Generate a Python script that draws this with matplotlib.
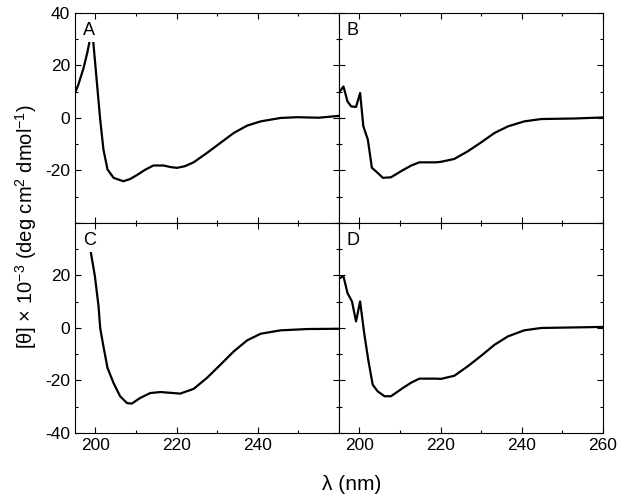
import matplotlib
matplotlib.use("Agg")
import matplotlib.pyplot as plt

plt.rcParams["font.family"] = ["Liberation Sans", "DejaVu Sans"]
plt.rcParams["mathtext.fontset"] = "custom"
plt.rcParams["mathtext.rm"] = "Liberation Sans"
plt.rcParams["mathtext.it"] = "Liberation Sans:italic"
plt.rcParams["axes.unicode_minus"] = False

# panel A
wl_a = [195.0, 195.8, 197.1, 198.0, 198.5, 199.0, 199.5, 200.4, 201.2, 202.0, 203.0,
        204.5, 206.9, 208.5, 210.2, 212.3, 214.3, 216.8, 218.5, 220.1, 222.0, 224.2,
        227.5, 230.8, 234.1, 237.4, 240.7, 245.6, 249.7, 255.0, 260.0]
th_a = [9.5, 12.6, 19.0, 24.7, 28.5, 34.0, 29.0, 13.3, -0.6, -12.0, -19.6,
        -22.8, -24.1, -23.3, -21.8, -19.7, -18.1, -18.1, -18.7, -19.0, -18.4, -16.9,
        -13.3, -9.5, -5.7, -2.9, -1.3, 0.0, 0.3, 0.1, 0.8]

# panel B
wl_b = [195.0, 195.5, 196.1, 197.1, 198.0, 199.2, 200.2, 201.0, 202.1, 203.1, 204.1,
        205.8, 207.8, 210.7, 212.8, 214.8, 218.9, 220.1, 223.4, 226.7, 230.0, 233.3,
        236.6, 240.6, 244.8, 252.9, 260.0]
th_b = [10.0, 10.7, 12.0, 6.3, 4.4, 4.2, 9.5, -3.2, -8.2, -19.0, -20.3,
        -22.8, -22.6, -19.9, -18.1, -16.9, -16.9, -16.7, -15.6, -12.7, -9.3, -5.7,
        -3.2, -1.3, -0.4, -0.2, 0.2]

# panel C
wl_c = [198.9, 199.9, 200.8, 201.2, 202.0, 203.0, 204.5, 206.1, 207.8, 209.0, 211.0,
        213.5, 216.0, 218.5, 220.9, 224.2, 227.5, 230.8, 234.1, 237.4, 240.7, 245.6,
        252.2, 260.0]
th_c = [28.8, 19.7, 8.2, 0.0, -7.0, -15.2, -21.0, -26.0, -28.6, -28.8, -26.7,
        -24.8, -24.4, -24.7, -25.0, -23.2, -19.0, -14.0, -8.9, -4.7, -2.2, -0.9,
        -0.4, -0.3]

# panel D
wl_d = [195.2, 196.1, 197.1, 198.2, 199.2, 200.2, 201.2, 202.2, 203.3, 204.5, 206.2,
        207.8, 210.7, 212.8, 214.8, 218.9, 220.1, 223.4, 226.7, 230.0, 233.3, 236.6,
        240.6, 244.8, 260.0]
th_d = [19.0, 19.7, 13.3, 10.1, 2.5, 10.1, -1.9, -12.1, -21.6, -24.1, -26.0,
        -26.0, -22.9, -20.8, -19.3, -19.3, -19.4, -18.2, -14.6, -10.6, -6.4, -3.2,
        -0.9, 0.0, 0.4]

panels = [("A", wl_a, th_a), ("B", wl_b, th_b), ("C", wl_c, th_c), ("D", wl_d, th_d)]

fig = plt.figure(figsize=(6.24, 5.03), dpi=100)
gs = fig.add_gridspec(2, 2, left=0.1202, right=0.9663, top=0.9742, bottom=0.1392,
                      hspace=0, wspace=0)

for i, (name, wl, th) in enumerate(panels):
    row, col = divmod(i, 2)
    ax = fig.add_subplot(gs[row, col])
    ax.plot(wl, th, color="black", lw=1.6)
    ax.set_xlim(195, 260)
    ax.set_ylim(-40, 40)
    ax.set_xticks([200, 220, 240, 260])
    ax.set_xticks([210, 230, 250], minor=True)
    ax.set_yticks([-40, -20, 0, 20, 40])
    ax.set_yticks([-30, -10, 10, 30], minor=True)
    ax.tick_params(which="both", direction="in", top=True, right=True,
                   labelsize=12.5, width=0.8)
    ax.tick_params(which="major", length=4.5)
    ax.tick_params(which="minor", length=2.5)
    for s in ax.spines.values():
        s.set_linewidth(0.8)
    if col == 0:
        if row == 0:
            ax.set_yticklabels(["", "-20", "0", "20", "40"])
        else:
            ax.set_yticklabels(["-40", "-20", "0", "20", ""])
    else:
        ax.tick_params(labelleft=False)
    if row == 1:
        if col == 0:
            ax.set_xticklabels(["200", "220", "240", ""])
        else:
            ax.set_xticklabels(["200", "220", "240", "260"])
    else:
        ax.tick_params(labelbottom=False)
    ax.text(0.03, 0.955, name, transform=ax.transAxes, ha="left", va="top",
            fontsize=13, zorder=5,
            bbox=dict(facecolor="white", edgecolor="none", pad=1.5))

fig.text(0.042, 0.55, r"[θ] × 10$^{-3}$ (deg cm$^{2}$ dmol$^{-1}$)",
         rotation=90, ha="center", va="center", fontsize=14.5)
fig.text(0.564, 0.036, "λ (nm)", ha="center", va="center", fontsize=15)

fig.savefig("out.png", dpi=100)
